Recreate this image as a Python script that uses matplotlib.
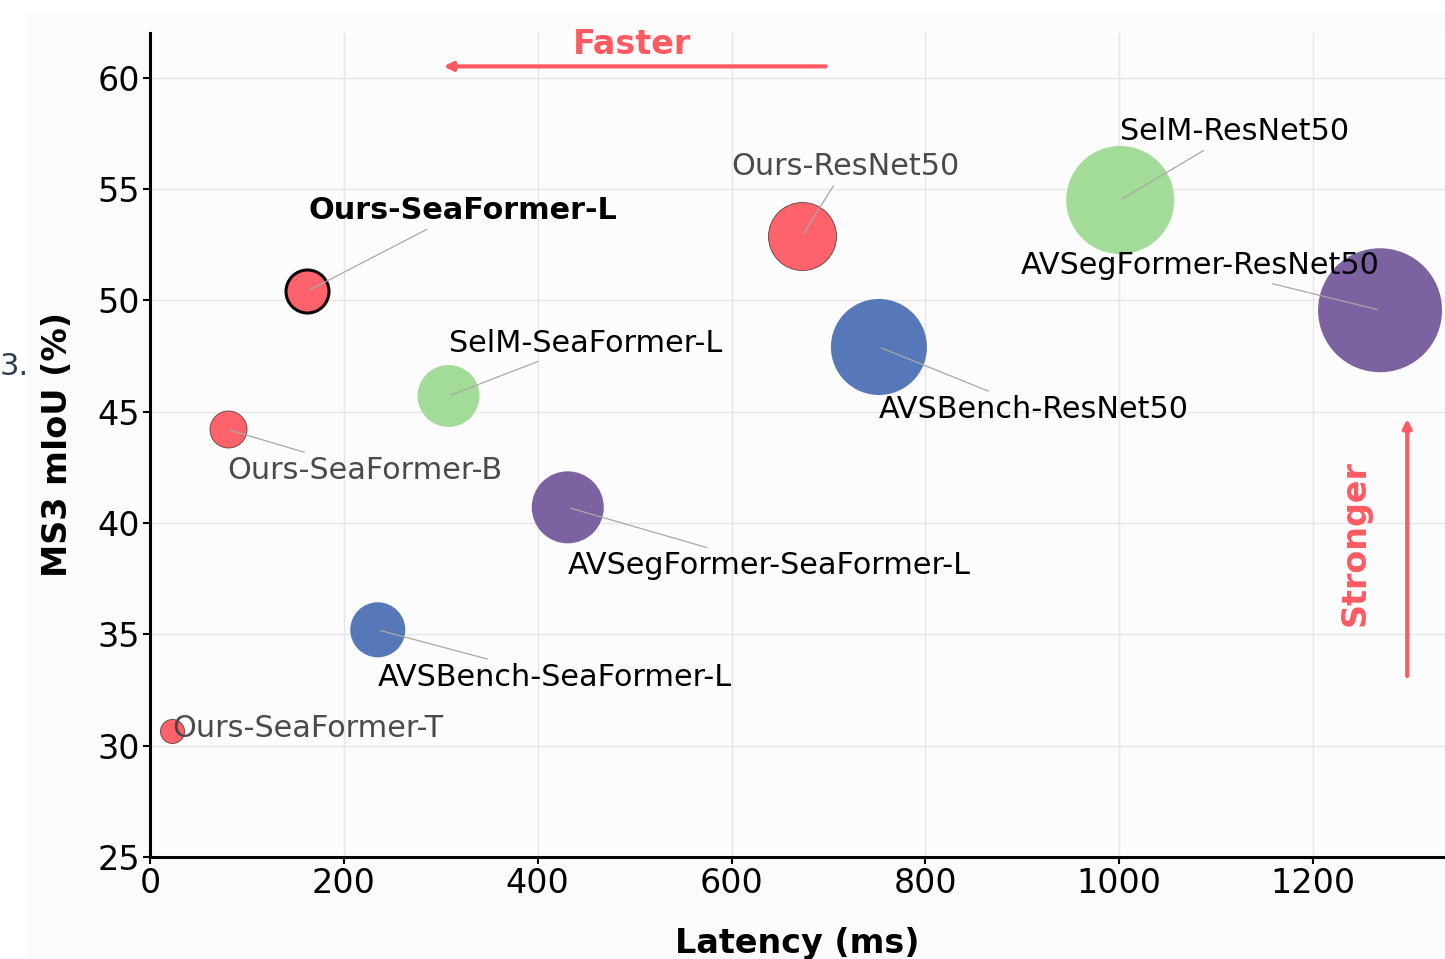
import matplotlib
matplotlib.use("Agg")
import matplotlib.pyplot as plt
from matplotlib.patches import Rectangle

# model name, latency (ms), MS3 mIoU (%), bubble area
names = [
    "Ours-SeaFormer-T", "Ours-SeaFormer-B", "Ours-SeaFormer-L", "Ours-ResNet50",
    "SelM-SeaFormer-L", "SelM-ResNet50",
    "AVSegFormer-SeaFormer-L", "AVSegFormer-ResNet50",
    "AVSBench-SeaFormer-L", "AVSBench-ResNet50",
]
latency = [23, 80, 162, 673, 308, 1001, 431, 1269, 235, 752]
miou = [30.65, 44.2, 50.4, 52.9, 45.7, 54.5, 40.7, 49.55, 35.2, 47.9]
bubble = [300, 710, 960, 2400, 1990, 6050, 2690, 7970, 1570, 4780]
family = ["ours", "ours", "ours", "ours", "selm", "selm", "avseg", "avseg", "avsb", "avsb"]

colors = {"ours": "#ff5a62", "selm": "#a3dc98", "avseg": "#7d62a2", "avsb": "#5677b8"}
RED = "#ff5a62"

# label offsets in points (left edge, vertical centre) relative to each bubble
offsets = [(0, 2), (0, -29.5), (1, 58), (-51, 50), (0, 38), (0, 49),
           (0, -42), (-259, 32), (0, -34), (0, -45)]

fig = plt.figure(figsize=(14.45, 9.59), dpi=100, facecolor="white")
fig.add_artist(Rectangle((0.019, 0), 1, 0.985, transform=fig.transFigure,
                         color="#fbfbfb", zorder=-10))
ax = fig.add_axes([0.1038, 0.1064, 0.8962, 0.8592])
ax.set_facecolor("#fcfcfc")

for i, name in enumerate(names):
    ours = family[i] == "ours"
    bold = name == "Ours-SeaFormer-L"
    ax.scatter(latency[i], miou[i], s=bubble[i], color=colors[family[i]],
               alpha=0.95 if ours else 1.0,
               edgecolor="black" if bold else ("#5a3a3a" if ours else "none"),
               linewidth=2.2 if bold else (0.6 if ours else 0), zorder=2)
    # the label sitting on top of its own bubble needs no leader line
    leader = None if offsets[i][1] < 5 and offsets[i][1] > -5 else \
        dict(arrowstyle="-", color="#a8a8a8", lw=0.9)
    ax.annotate(name, (latency[i], miou[i]), xytext=offsets[i],
                textcoords="offset points", ha="left", va="center",
                fontsize=21.8, fontweight="bold" if bold else "normal",
                color="#4a4a4a" if (ours and not bold) else "black",
                arrowprops=leader, zorder=4)

# direction hints
ax.annotate("", xy=(300, 60.5), xytext=(700, 60.5),
            arrowprops=dict(arrowstyle="-|>,head_length=0.5,head_width=0.25",
                            color=RED, lw=3))
ax.text(497, 61.5, "Faster", color=RED, fontsize=24, fontweight="bold",
        ha="center", va="center")
ax.annotate("", xy=(1297, 44.8), xytext=(1297, 33.0),
            arrowprops=dict(arrowstyle="-|>,head_length=0.5,head_width=0.25",
                            color=RED, lw=3))
ax.text(1243, 39.1, "Stronger", color=RED, fontsize=24, fontweight="bold",
        ha="center", va="center", rotation=90)

ax.set_xlim(0, 1336)
ax.set_ylim(25, 62)
ax.set_xticks([0, 200, 400, 600, 800, 1000, 1200])
ax.set_yticks([25, 30, 35, 40, 45, 50, 55, 60])
ax.tick_params(labelsize=24, width=1.5, length=5, pad=2)
ax.grid(True, color="#e6e6e6", linewidth=1.0, zorder=0)
ax.set_axisbelow(True)
for side in ["top", "right"]:
    ax.spines[side].set_visible(False)
for side in ["left", "bottom"]:
    ax.spines[side].set_linewidth(2.2)

ax.set_xlabel("Latency (ms)", fontsize=24, fontweight="bold", labelpad=20)
ax.set_ylabel("MS3 mIoU (%)", fontsize=24, fontweight="bold", labelpad=17)

# fragment of neighbouring page text at the left edge
fig.text(0.0, 0.618, "3.", fontsize=22, color="#2d3e50", ha="left", va="center")

fig.savefig("out.png", dpi=100)
